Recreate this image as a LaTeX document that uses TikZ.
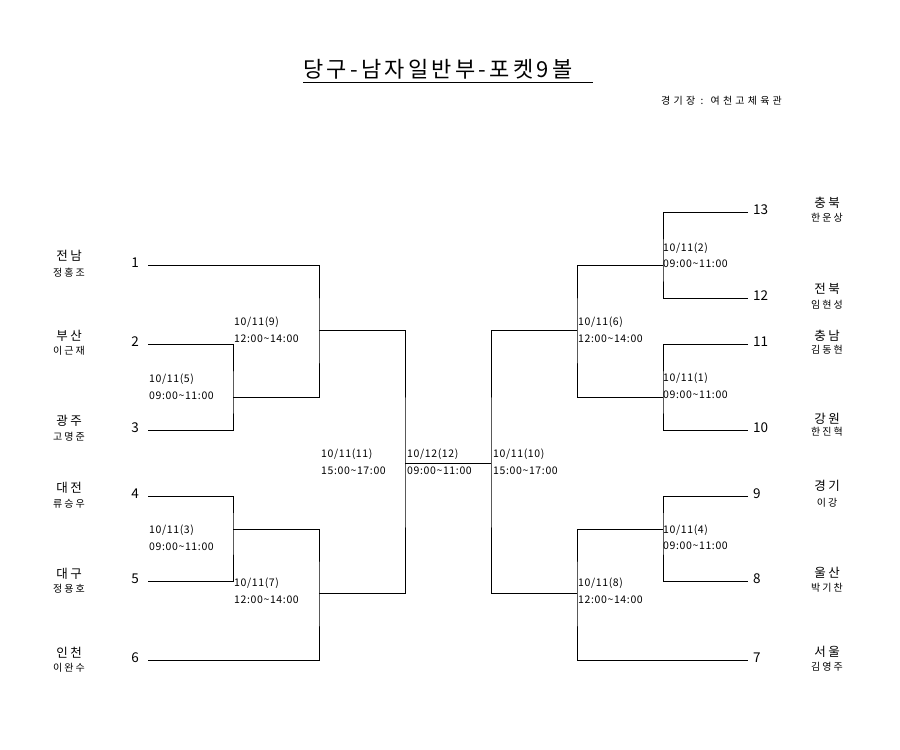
\documentclass[tikz,border=0pt]{standalone}
\usepackage{fontspec}
\setmainfont{Noto Sans CJK KR}
\newfontfamily\krsp[LetterSpace=20]{Noto Sans CJK KR}
\newfontfamily\krven[LetterSpace=32]{Noto Sans CJK KR}
\newfontfamily\krtitle[LetterSpace=15]{Noto Sans CJK KR}
\newfontfamily\krnum[LetterSpace=6]{Noto Sans CJK KR}
\begin{document}
\begin{tikzpicture}[x=1pt,y=-1pt,
  bracket/.style={line width=0.8pt, black},
  region/.style={font=\fontsize{12.5}{14}\selectfont\krsp, inner sep=0, anchor=center},
  person/.style={font=\fontsize{10}{12}\selectfont\krsp, inner sep=0, anchor=center},
  seedl/.style={font=\fontsize{13.5}{15}\selectfont, inner sep=0, anchor=east},
  seedr/.style={font=\fontsize{13.5}{15}\selectfont, inner sep=0, anchor=west},
  when/.style={font=\fontsize{10.5}{12}\selectfont\krnum, inner sep=0, anchor=base west}]
\useasboundingbox (0,0) rectangle (900,750);
\fill[white] (0,0) rectangle (900,750);

% title
\node[font=\fontsize{22}{24}\selectfont\krtitle, inner sep=0, anchor=base west] (title) at (303,77) {당구-남자일반부-포켓9볼};
\coordinate (ul1) at (303,82);
\coordinate (ul2) at (593,82);
\draw[line width=0.9pt] (ul1) -- (ul2);
\node[font=\fontsize{10}{12}\selectfont\krven, inner sep=0, anchor=base west] (venue) at (661,104) {경기장 : 여천고체육관};

% seed line ends
\coordinate (s1) at (148,265);
\coordinate (s2) at (148,344);
\coordinate (s3) at (148,430);
\coordinate (s4) at (148,496);
\coordinate (s5) at (148,581);
\coordinate (s6) at (148,660);
\coordinate (s13) at (748,212);
\coordinate (s12) at (748,298);
\coordinate (s11) at (748,344);
\coordinate (s10) at (748,430);
\coordinate (s9) at (748,496);
\coordinate (s8) at (748,581);
\coordinate (s7) at (748,660);
% junctions
\coordinate (m5) at (233,397);
\coordinate (m3) at (233,529);
\coordinate (m9) at (319,330);
\coordinate (m7) at (319,593);
\coordinate (m11) at (405,463);
\coordinate (m10) at (491,463);
\coordinate (m6) at (577,330);
\coordinate (m8) at (577,593);
\coordinate (m2) at (663,265);
\coordinate (m1) at (663,397);
\coordinate (m4) at (663,529);

% bracket lines
\draw[bracket] (s2) -| (m5) |- (s3);
\draw[bracket] (s1) -| (m9) |- (m5);
\draw[bracket] (s4) -| (m3) |- (s5);
\draw[bracket] (m3) -| (m7) |- (s6);
\draw[bracket] (m9) -| (m11) |- (m7);
\draw[bracket] (m11) -- (m10);
\draw[bracket] (m6) -| (m10) |- (m8);
\draw[bracket] (m2) -| (m6) |- (m1);
\draw[bracket] (s13) -| (m2) |- (s12);
\draw[bracket] (s11) -| (m1) |- (s10);
\draw[bracket] (m4) -| (m8) |- (s7);
\draw[bracket] (s9) -| (m4) |- (s8);

% seed numbers
\node[seedl] (n1) at (139,263) {1};
\node[seedl] (n2) at (139,342) {2};
\node[seedl] (n3) at (139,428) {3};
\node[seedl] (n4) at (139,494) {4};
\node[seedl] (n5) at (139,579) {5};
\node[seedl] (n6) at (139,658) {6};
\node[seedr] (n13) at (753,210) {13};
\node[seedr] (n12) at (753,296) {12};
\node[seedr] (n11) at (753,342) {11};
\node[seedr] (n10) at (753,428) {10};
\node[seedr] (n9) at (753,494) {9};
\node[seedr] (n8) at (753,579) {8};
\node[seedr] (n7) at (753,658) {7};

% left names
\node[region] (r1) at (69,256) {전남};
\node[person] (p1) at (69,272.5) {정홍조};
\node[region] (r2) at (69,336) {부산};
\node[person] (p2) at (69,350.5) {이근재};
\node[region] (r3) at (69,421) {광주};
\node[person] (p3) at (69,437) {고명준};
\node[region] (r4) at (69,487.5) {대전};
\node[person] (p4) at (69,503.5) {류승우};
\node[region] (r5) at (69,573.5) {대구};
\node[person] (p5) at (69,589) {정용호};
\node[region] (r6) at (69,652.5) {인천};
\node[person] (p6) at (69,667.5) {이완수};
% right names
\node[region] (r13) at (827,202.5) {충북};
\node[person] (p13) at (827,218) {한운상};
\node[region] (r12) at (827,289) {전북};
\node[person] (p12) at (827,305) {임현성};
\node[region] (r11) at (827,336) {충남};
\node[person] (p11) at (827,350) {김동현};
\node[region] (r10) at (827,419) {강원};
\node[person] (p10) at (827,432) {한진혁};
\node[region] (r9) at (827,486) {경기};
\node[person] (p9) at (827,502.5) {이강};
\node[region] (r8) at (827,572.5) {울산};
\node[person] (p8) at (827,588) {박기찬};
\node[region] (r7) at (827,652) {서울};
\node[person] (p7) at (827,667) {김영주};

% match dates and times
\node[when] (d5) at (149,382) {10/11(5)};
\node[when] (t5) at (149,399) {09:00\textasciitilde 11:00};
\node[when] (d9) at (234,325) {10/11(9)};
\node[when] (t9) at (234,342) {12:00\textasciitilde 14:00};
\node[when] (d3) at (149,533) {10/11(3)};
\node[when] (t3) at (149,550) {09:00\textasciitilde 11:00};
\node[when] (d7) at (234,586) {10/11(7)};
\node[when] (t7) at (234,603) {12:00\textasciitilde 14:00};
\node[when] (d11) at (321,457) {10/11(11)};
\node[when] (t11) at (321,474) {15:00\textasciitilde 17:00};
\node[when] (d12) at (407,457) {10/12(12)};
\node[when] (t12) at (407,474) {09:00\textasciitilde 11:00};
\node[when] (d10) at (493,457) {10/11(10)};
\node[when] (t10) at (493,474) {15:00\textasciitilde 17:00};
\node[when] (d6) at (578,325) {10/11(6)};
\node[when] (t6) at (578,342) {12:00\textasciitilde 14:00};
\node[when] (d2) at (663,251) {10/11(2)};
\node[when] (t2) at (663,267) {09:00\textasciitilde 11:00};
\node[when] (d1) at (663,381) {10/11(1)};
\node[when] (t1) at (663,398) {09:00\textasciitilde 11:00};
\node[when] (d4) at (663,533) {10/11(4)};
\node[when] (t4) at (663,549) {09:00\textasciitilde 11:00};
\node[when] (d8) at (578,586) {10/11(8)};
\node[when] (t8) at (578,603) {12:00\textasciitilde 14:00};
\end{tikzpicture}
\end{document}
